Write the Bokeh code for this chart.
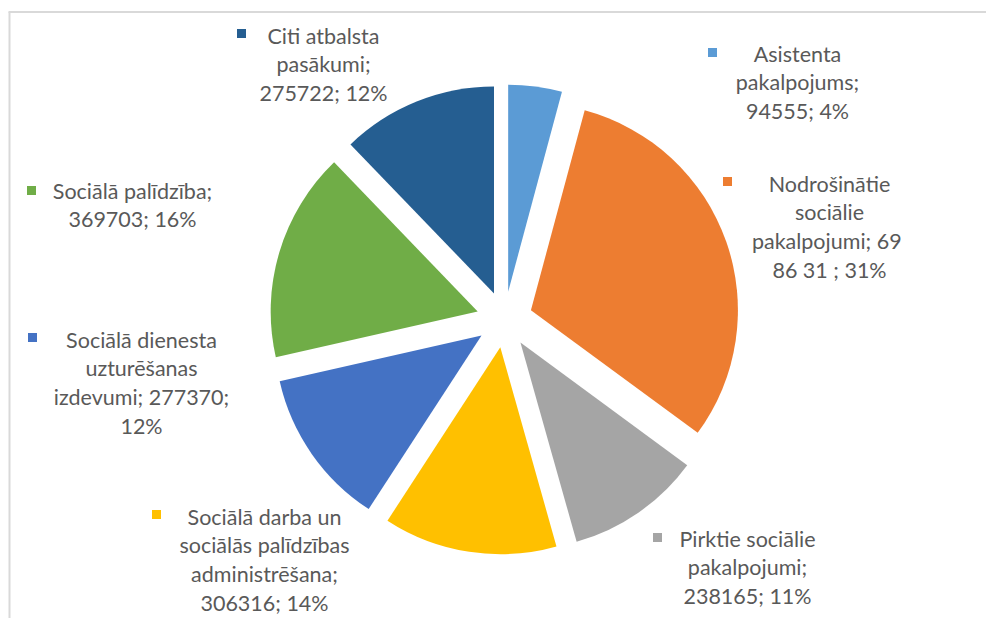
import math
from bokeh.plotting import figure
from bokeh.models import Range1d, ColumnDataSource
from bokeh.core.properties import value
from bokeh.embed import file_html
from bokeh.resources import INLINE

# ---- data ----
categories = [
    "Asistenta pakalpojums",
    "Nodrošinātie sociālie pakalpojumi",
    "Pirktie sociālie pakalpojumi",
    "Sociālā darba un sociālās palīdzības administrēšana",
    "Sociālā dienesta uzturēšanas izdevumi",
    "Sociālā palīdzība",
    "Citi atbalsta pasākumi",
]
values = [94555, 698631, 238165, 306316, 277370, 369703, 275722]
# label lines as shown (category text wrapped; value/percent appended)
label_templates = [
    ["Asistenta", "pakalpojums;", "{v}; {p}"],
    ["Nodrošinātie", "sociālie", "pakalpojumi;  69", "86 31 ; {p}"],
    ["Pirktie sociālie", "pakalpojumi;", "{v}; {p}"],
    ["Sociālā darba un", "sociālās palīdzības", "administrēšana;", "{v}; {p}"],
    ["Sociālā dienesta", "uzturēšanas", "izdevumi; {v};", "{p}"],
    ["Sociālā palīdzība;", "{v}; {p}"],
    ["Citi atbalsta", "pasākumi;", "{v}; {p}"],
]

# ---- styles / layout ----
colors = ["#5B9BD5", "#ED7D31", "#A5A5A5", "#FFC000", "#4472C4", "#70AD47", "#255E91"]
# label layout in page pixels: (text center x, first line y, key x, key y)
label_layout = [
    (797, 53, 712, 52),
    (829, 183, 727, 181),
    (747, 538, 657, 537),
    (264, 516, 156, 514),
    (141, 339, 32, 337),
    (132, 190, 31, 190),
    (323, 35, 241, 33),
]
LINE_STEP = 28.7
CX, CY = 504, 319      # pie centre (page px)
R = 207                # radius
EXPLODE = 28           # explosion offset

W, H = 986, 618
p = figure(width=W, height=H, x_range=Range1d(0, W), y_range=Range1d(-H, 0),
           output_backend="svg", toolbar_location=None, min_border=0,
           x_axis_type=None, y_axis_type=None)
p.grid.visible = False
p.outline_line_color = None
p.background_fill_color = "white"
p.border_fill_color = "white"

# frame lines of the original chart area
p.segment(x0=[8, 9], y0=[-11.5, -11.5], x1=[990, 9], y1=[-11.5, -620],
          line_color="#d9d9d9", line_width=2)

total = sum(values)
xs, ys, starts, ends = [], [], [], []
cum = 0.0
for v in values:
    a1 = cum / total * 360.0
    cum += v
    a2 = cum / total * 360.0
    mid = math.radians((a1 + a2) / 2)
    xs.append(CX + EXPLODE * math.sin(mid))
    ys.append(-CY + EXPLODE * math.cos(mid))
    starts.append(math.radians(90 - a2))
    ends.append(math.radians(90 - a1))

src = ColumnDataSource(dict(x=xs, y=ys, s=starts, e=ends, c=colors, name=categories, v=values))
p.wedge(x="x", y="y", radius=R, start_angle="s", end_angle="e", fill_color="c",
        line_color=None, source=src)

tx, ty, tt = [], [], []
kx, ky, kc = [], [], []
for i, (v, tmpl) in enumerate(zip(values, label_templates)):
    pct = f"{round(v / total * 100)}%"
    cxl, y0, kxx, kyy = label_layout[i]
    for j, line in enumerate(tmpl):
        tx.append(cxl)
        ty.append(-(y0 + j * LINE_STEP))
        tt.append(line.format(v=v, p=pct))
    kx.append(kxx)
    ky.append(-kyy)
    kc.append(colors[i])

p.text(x=tx, y=ty, text=tt, text_font=value("Lato"), text_font_size="21.5px",
       text_color="#595959", text_align="center", text_baseline="middle")
p.scatter(x=kx, y=ky, marker="square", size=9, fill_color=kc, line_color=None)

open("out.html", "w").write(file_html(p, INLINE))
